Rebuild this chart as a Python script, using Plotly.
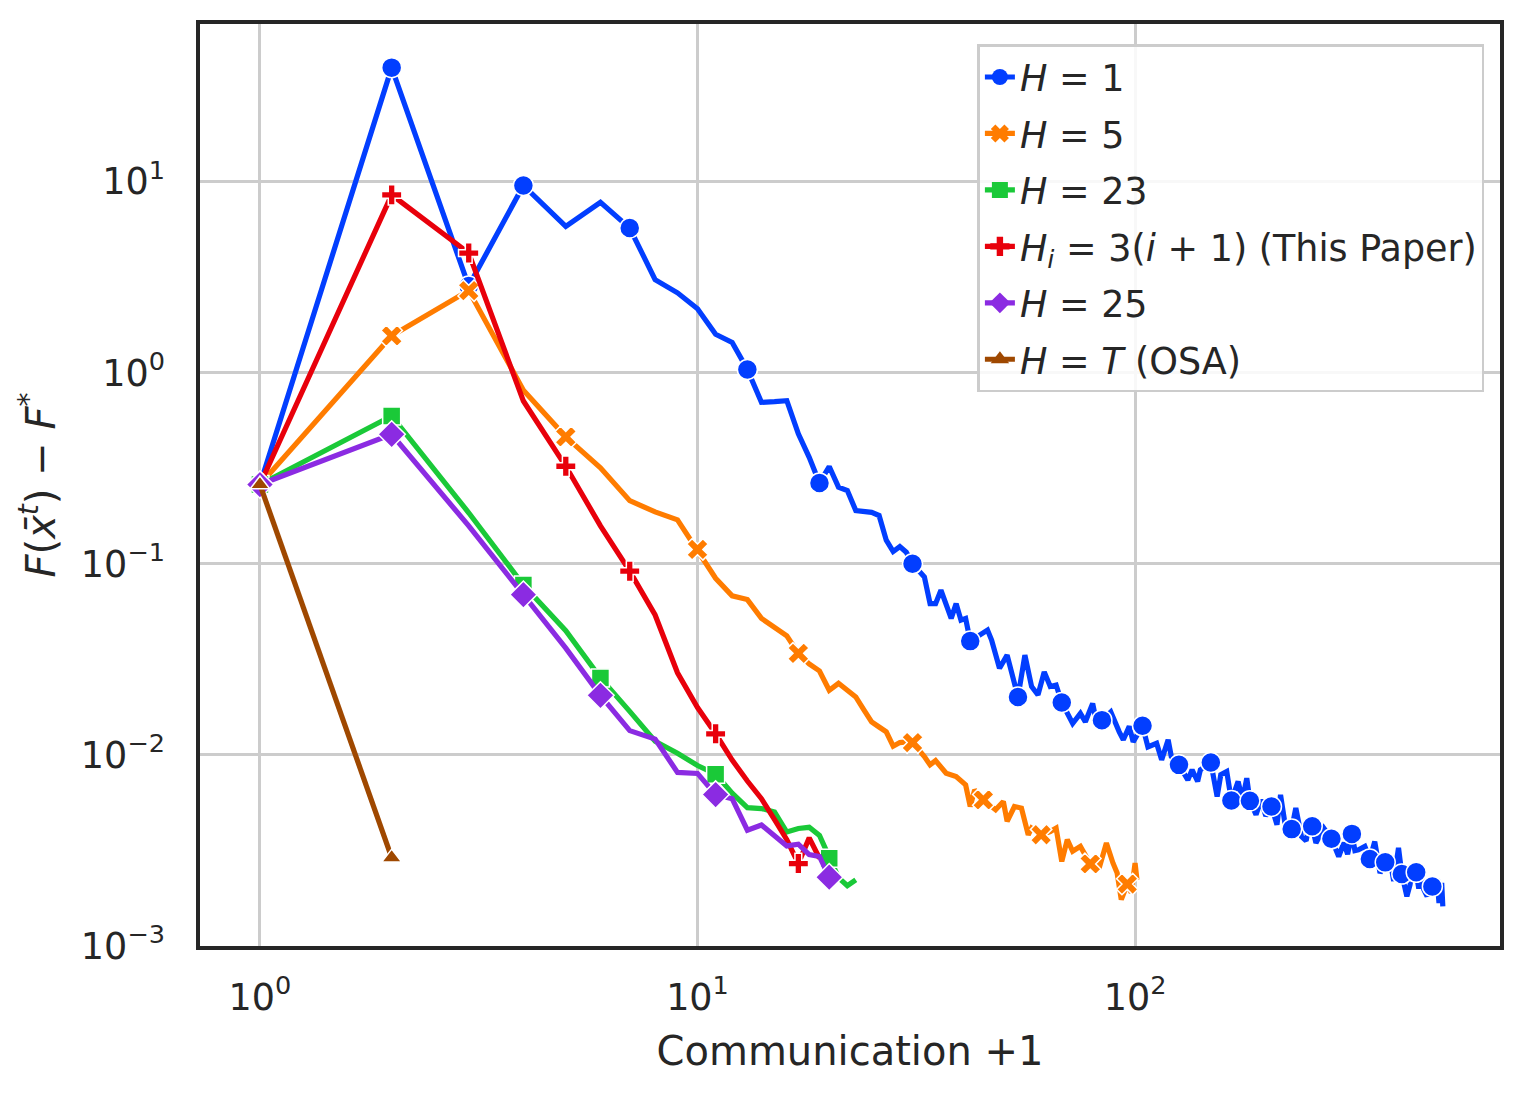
import plotly.graph_objects as go

# x = communication round + 1, y = F(x_bar^t) - F*
h1_x = [1, 2, 3, 4, 5, 6, 7, 8, 9, 10, 11, 12, 13, 14, 15, 16, 17, 18, 19, 20,
        21, 22, 23, 24, 25, 26, 27, 28, 29, 30, 31, 33, 34, 35, 36, 38, 39, 40, 41, 42,
        46, 47, 49, 51, 52, 54, 56, 58, 60, 62, 64, 66, 68, 72, 75, 77, 80, 82, 84, 88,
        92, 94, 97, 99, 104, 107, 112, 115, 119, 121, 126, 132, 135, 139, 141, 149, 154, 157, 162, 166,
        172, 176, 180, 183, 189, 194, 199, 205, 211, 215, 220, 228, 233, 240, 246, 250, 254, 259, 270, 281,
        292, 300, 306, 313, 318, 324, 335, 344, 353, 363, 373, 386, 390, 395, 400, 407, 418, 425, 430, 439,
        445, 450, 457, 465, 470, 478, 485, 490, 495, 502, 505]
h1_y = [0.26, 39.5, 2.84, 9.55, 5.84, 7.79, 5.72, 3.07, 2.62, 2.16, 1.59, 1.44, 1.04, 0.70, 0.706, 0.714, 0.479, 0.361, 0.265, 0.323,
        0.252, 0.242, 0.190, 0.188, 0.186, 0.179, 0.133, 0.116, 0.123, 0.115, 0.100, 0.0853, 0.0619, 0.0619, 0.0728, 0.0518, 0.0619, 0.0507, 0.0518, 0.0394,
        0.0450, 0.0399, 0.0284, 0.0333, 0.0284, 0.0201, 0.0333, 0.0228, 0.0206, 0.0272, 0.0228, 0.0232, 0.0188, 0.0146, 0.0165, 0.0149, 0.0186, 0.0141, 0.0152, 0.0168,
        0.0132, 0.0120, 0.0141, 0.0117, 0.0142, 0.0110, 0.0115, 0.00942, 0.0120, 0.00980, 0.00887, 0.00740, 0.00836, 0.00726, 0.00836, 0.00912, 0.00605, 0.00787, 0.00818, 0.00577,
        0.00726, 0.00582, 0.00755, 0.00575, 0.00486, 0.00582, 0.00479, 0.00537, 0.00431, 0.00618, 0.00440, 0.00409, 0.00527, 0.00374, 0.00355, 0.00437, 0.00423, 0.00346, 0.00414, 0.00364,
        0.00294, 0.00347, 0.00302, 0.00386, 0.00316, 0.00319, 0.00332, 0.00285, 0.00352, 0.00241, 0.00274, 0.00251, 0.00219, 0.00275, 0.00326, 0.00238, 0.00182, 0.00209, 0.00251, 0.00243,
        0.00200, 0.00234, 0.00197, 0.00182, 0.00219, 0.00205, 0.00186, 0.00224, 0.00168, 0.00214, 0.00161]
h1_marks = [1, 2, 3, 4, 7, 13, 19, 31, 42, 54, 68, 84, 104, 126, 149, 166, 183, 205, 228, 254,
            281, 313, 344, 373, 407, 439, 478]

h5_x = [1, 2, 3, 4, 5, 6, 7, 8, 9, 10, 11, 12, 13, 14, 15, 16, 17, 18, 19, 20,
        21, 22, 23, 24, 25, 26, 27, 28, 29, 30, 31, 33, 34, 35, 37, 39, 41, 42, 43, 45,
        48, 50, 51, 53, 55, 57, 58, 61, 64, 66, 68, 70, 72, 75, 79, 83, 86, 89, 91, 93,
        96, 98, 100, 101]
h5_y = [0.26, 1.56, 2.69, 0.81, 0.462, 0.318, 0.214, 0.187, 0.170, 0.119, 0.084, 0.068, 0.065, 0.0518, 0.0466, 0.042, 0.034, 0.0299, 0.0275, 0.0218,
        0.0237, 0.0218, 0.0201, 0.0172, 0.0149, 0.0140, 0.0132, 0.0111, 0.0116, 0.0117, 0.0116, 0.00980, 0.00887, 0.00933, 0.00802, 0.00771, 0.00697, 0.00537, 0.00656, 0.00582,
        0.00516, 0.00570, 0.00449, 0.00537, 0.00527, 0.00382, 0.00414, 0.00382, 0.00397, 0.00414, 0.00277, 0.00360, 0.00313, 0.00332, 0.00269, 0.00261, 0.00346, 0.00272, 0.00241, 0.00175,
        0.00211, 0.00190, 0.00272, 0.00222]
h5_marks = [1, 2, 3, 5, 10, 17, 31, 45, 61, 79, 96]

h23_x = [1, 2, 3, 4, 5, 6, 7, 8, 9, 10, 11, 12, 13, 14, 15, 16, 17, 18, 19, 20, 21, 22, 23]
h23_y = [0.26, 0.594, 0.185, 0.0775, 0.0447, 0.0253, 0.0169, 0.0118, 0.0102, 0.0088, 0.00793, 0.0063,
         0.0053, 0.00524, 0.00503, 0.00395, 0.00412, 0.00418, 0.00379, 0.00288, 0.00228, 0.00207, 0.00222]
h23_marks = [1, 2, 4, 6, 11, 20]

hi_x = [1, 2, 3, 4, 5, 6, 7, 8, 9, 10, 11, 12, 13, 14, 15, 16, 17, 18, 19]
hi_y = [0.26, 8.53, 4.23, 0.711, 0.324, 0.158, 0.0915, 0.054, 0.0269, 0.0177, 0.0129, 0.0094,
        0.0073, 0.0059, 0.00458, 0.0036, 0.0027, 0.00368, 0.00288]
hi_marks = [1, 2, 3, 5, 7, 11, 17]

h25_x = [1, 2, 3, 4, 5, 6, 7, 8, 9, 10, 11, 12, 13, 14, 15, 16, 17, 18, 19, 20]
h25_y = [0.26, 0.476, 0.158, 0.069, 0.0362, 0.0205, 0.0134, 0.0121, 0.0081, 0.0080, 0.0062, 0.0059,
         0.00404, 0.0043, 0.0038, 0.00334, 0.00341, 0.00301, 0.00294, 0.00229]
h25_marks = [1, 2, 4, 6, 11, 20]

osa_x = [1, 2]
osa_y = [0.26, 0.0029]
osa_marks = [1, 2]

x_tick_vals = [1, 10, 100]
x_tick_text = ["10<sup>0</sup>", "10<sup>1</sup>", "10<sup>2</sup>"]
y_tick_vals = [0.001, 0.01, 0.1, 1, 10]
y_tick_text = ["10<sup>\u22123</sup>", "10<sup>\u22122</sup>", "10<sup>\u22121</sup>",
               "10<sup>0</sup>", "10<sup>1</sup>"]

series = [
    ("<i>H</i> = 1", h1_x, h1_y, h1_marks, "#023eff", "circle", 20),
    ("<i>H</i> = 5", h5_x, h5_y, h5_marks, "#ff7c00", "x", 19),
    ("<i>H</i> = 23", h23_x, h23_y, h23_marks, "#1ac938", "square", 18),
    ("<i>H</i><sub><i>i</i></sub> = 3(<i>i</i> + 1) (This Paper)", hi_x, hi_y, hi_marks, "#e8000b", "cross", 17),
    ("<i>H</i> = 25", h25_x, h25_y, h25_marks, "#8b2be2", "diamond", 21),
    ("<i>H</i> = <i>T</i> (OSA)", osa_x, osa_y, osa_marks, "#9f4800", "triangle-up", 17),
]

FONT = "DejaVu Sans"
TEXT = "#262626"

fig = go.Figure()
for i, (label, xs, ys, marks, color, symbol, size) in enumerate(series):
    lookup = dict(zip(xs, ys))
    group = f"g{i}"
    fig.add_trace(go.Scatter(
        x=xs, y=ys, mode="lines", line={"color": color, "width": 5.2},
        showlegend=False, legendgroup=group, hoverinfo="skip",
    ))
    fig.add_trace(go.Scatter(
        x=marks, y=[lookup[m] for m in marks], mode="markers",
        marker={"symbol": symbol, "size": size, "color": color,
                "line": {"color": "white", "width": 1.5}},
        showlegend=False, legendgroup=group,
    ))
    # legend-only entry (line + marker sample)
    fig.add_trace(go.Scatter(
        x=[None], y=[None], mode="lines+markers", name=label, legendgroup=group,
        line={"color": color, "width": 5.2},
        marker={"symbol": symbol, "size": size, "color": color, "line": {"width": 0}},
    ))

axis_common = dict(
    type="log",
    showgrid=True, gridcolor="#cccccc", gridwidth=2.5,
    showline=True, mirror=True, linecolor=TEXT, linewidth=3.5,
    ticks="", zeroline=False,
    tickfont={"family": FONT, "size": 36.5, "color": TEXT},
    title_font={"family": FONT, "size": 40, "color": TEXT},
)

fig.update_xaxes(
    **axis_common,
    range=[-0.137, 2.834],
    tickvals=x_tick_vals, ticktext=x_tick_text,
    ticklabelstandoff=16,
    title_text="Communication +1", title_standoff=20,
)
fig.update_yaxes(
    **axis_common,
    range=[-3, 1.825],
    tickvals=y_tick_vals, ticktext=y_tick_text,
    ticklabelstandoff=24,
    title_text="<i>F</i>(<i>x\u0304</i><sup><i>t</i></sup>) \u2212 <i>F</i><sup>*</sup>",
    title_standoff=14,
)

# the page body adds an 8 px margin, so the plot box is shifted up/left by that much
fig.update_layout(
    width=1526, height=1095,
    margin={"l": 192, "r": 34, "t": 14, "b": 157, "pad": 0},
    paper_bgcolor="white", plot_bgcolor="white",
    font={"family": FONT, "color": TEXT},
    showlegend=True,
    legend={
        "x": 0.988, "y": 0.978, "xanchor": "right", "yanchor": "top",
        "bgcolor": "rgba(255,255,255,0.85)", "bordercolor": "#cccccc", "borderwidth": 2.5,
        "font": {"family": FONT, "size": 36.5, "color": TEXT},
        "tracegroupgap": 6,
    },
)

fig.write_html("out.html")
